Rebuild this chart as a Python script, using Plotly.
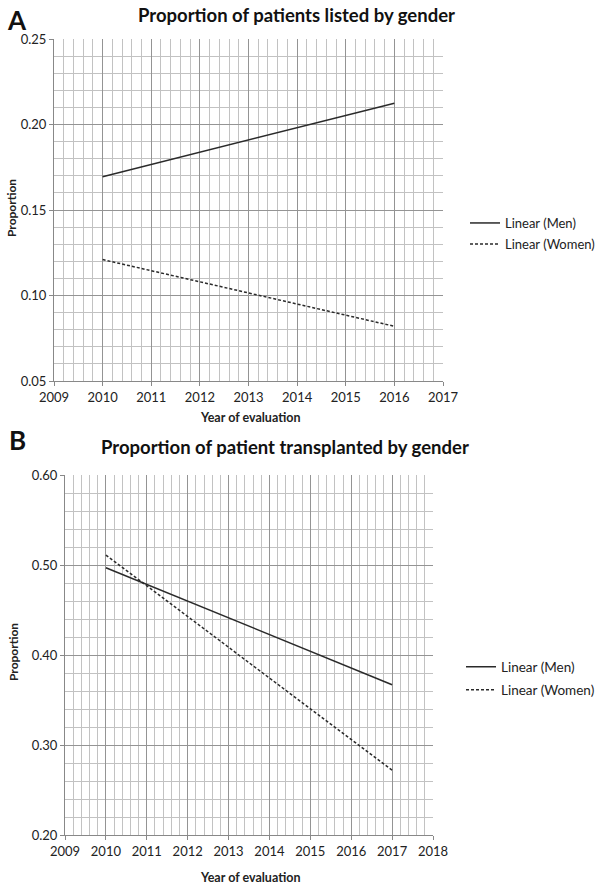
import plotly.graph_objects as go

# Panel A: proportion listed
years_a = [2010, 2016]
men_a = [0.1695, 0.2124]
women_a = [0.1210, 0.0820]

# Panel B: proportion transplanted
years_b = [2010, 2017]
men_b = [0.497, 0.367]
women_b = [0.511, 0.272]

FONT = "Lato"
LC = "#2a2a2a"
W, H = 600, 885
def px(x): return x / W
def py(y): return 1 - y / H

fig = go.Figure()
fig.add_trace(go.Scatter(x=years_a, y=men_a, mode="lines", name="Linear (Men)",
                         line=dict(color=LC, width=1.5), xaxis="x", yaxis="y", legend="legend"))
fig.add_trace(go.Scatter(x=years_a, y=women_a, mode="lines", name="Linear (Women)",
                         line=dict(color=LC, width=1.5, dash="3px,2px"), xaxis="x", yaxis="y", legend="legend2"))
fig.add_trace(go.Scatter(x=years_b, y=men_b, mode="lines", name="Linear (Men)",
                         line=dict(color=LC, width=1.5), xaxis="x2", yaxis="y2", legend="legend3"))
fig.add_trace(go.Scatter(x=years_b, y=women_b, mode="lines", name="Linear (Women)",
                         line=dict(color=LC, width=1.5, dash="3px,2px"), xaxis="x2", yaxis="y2", legend="legend4"))

grid_major = "#949494"
grid_minor = "#c2c2c2"
tickfont = dict(family=FONT, size=13, color="#222")

def xax(domain, rng, anchor):
    return dict(domain=domain, range=rng, anchor=anchor, dtick=1, tick0=2009,
                showgrid=True, gridcolor=grid_major, gridwidth=1,
                minor=dict(dtick=0.2, showgrid=True, gridcolor=grid_minor, gridwidth=1),
                ticks="outside", ticklen=4, tickcolor="#888",
                showline=True, linecolor="#888", linewidth=1, automargin=False,
                zeroline=False, tickfont=tickfont, fixedrange=True)

def yax(domain, rng, anchor, dtick, mdtick):
    return dict(domain=domain, range=rng, anchor=anchor, dtick=dtick, tick0=rng[0],
                showgrid=True, gridcolor=grid_major, gridwidth=1,
                minor=dict(dtick=mdtick, showgrid=True, gridcolor=grid_minor, gridwidth=1),
                ticks="outside", ticklen=4, tickcolor="#888", tickformat=".2f",
                showline=True, linecolor="#888", linewidth=1, automargin=False,
                zeroline=False, tickfont=tickfont, fixedrange=True)

def leg(x, y, size):
    return dict(x=px(x), y=py(y), xanchor="left", yanchor="middle",
                font=dict(family=FONT, size=size, color="#222"), bgcolor="rgba(0,0,0,0)",
                itemwidth=30, tracegroupgap=0)

def ann(text, x, y, size, angle=0, color="#111"):
    return dict(text=text, x=px(x), y=py(y), xref="paper", yref="paper", xanchor="center",
                yanchor="middle", showarrow=False, textangle=angle,
                font=dict(family=FONT, size=size, color=color))

fig.update_layout(
    width=W, height=H, margin=dict(l=0, r=0, t=0, b=0, autoexpand=False),
    paper_bgcolor="white", plot_bgcolor="white",
    font=dict(family=FONT, color="#222"),
    xaxis=xax([px(54), px(443)], [2009, 2017], "y"),
    yaxis=yax([py(381), py(39)], [0.05, 0.25], "x", 0.05, 0.01),
    xaxis2=xax([px(65), px(433)], [2009, 2018], "y2"),
    yaxis2=yax([py(835), py(475)], [0.20, 0.60], "x2", 0.10, 0.02),
    legend=leg(465, 223, 13),
    legend2=leg(465, 244, 13),
    legend3=leg(461, 667, 13.5),
    legend4=leg(461, 690, 13.5),
    showlegend=True,
    annotations=[
        ann("<b>A</b>", 17, 20, 26),
        ann("<b>Proportion of patients listed by gender</b>", 296, 15, 18.5),
        ann("<b>Proportion</b>", 11, 208, 12, angle=-90, color="#222"),
        ann("<b>Year of evaluation</b>", 250, 418, 12.5, color="#222"),
        ann("<b>B</b>", 17, 440, 26),
        ann("<b>Proportion of patient transplanted by gender</b>", 285, 447, 18.5),
        ann("<b>Proportion</b>", 13, 652, 12, angle=-90, color="#222"),
        ann("<b>Year of evaluation</b>", 250, 877, 12.5, color="#222"),
    ],
)

fig.write_html("out.html", config={"displayModeBar": False},
               post_script="document.body.style.margin='0';document.body.style.overflow='hidden';")
